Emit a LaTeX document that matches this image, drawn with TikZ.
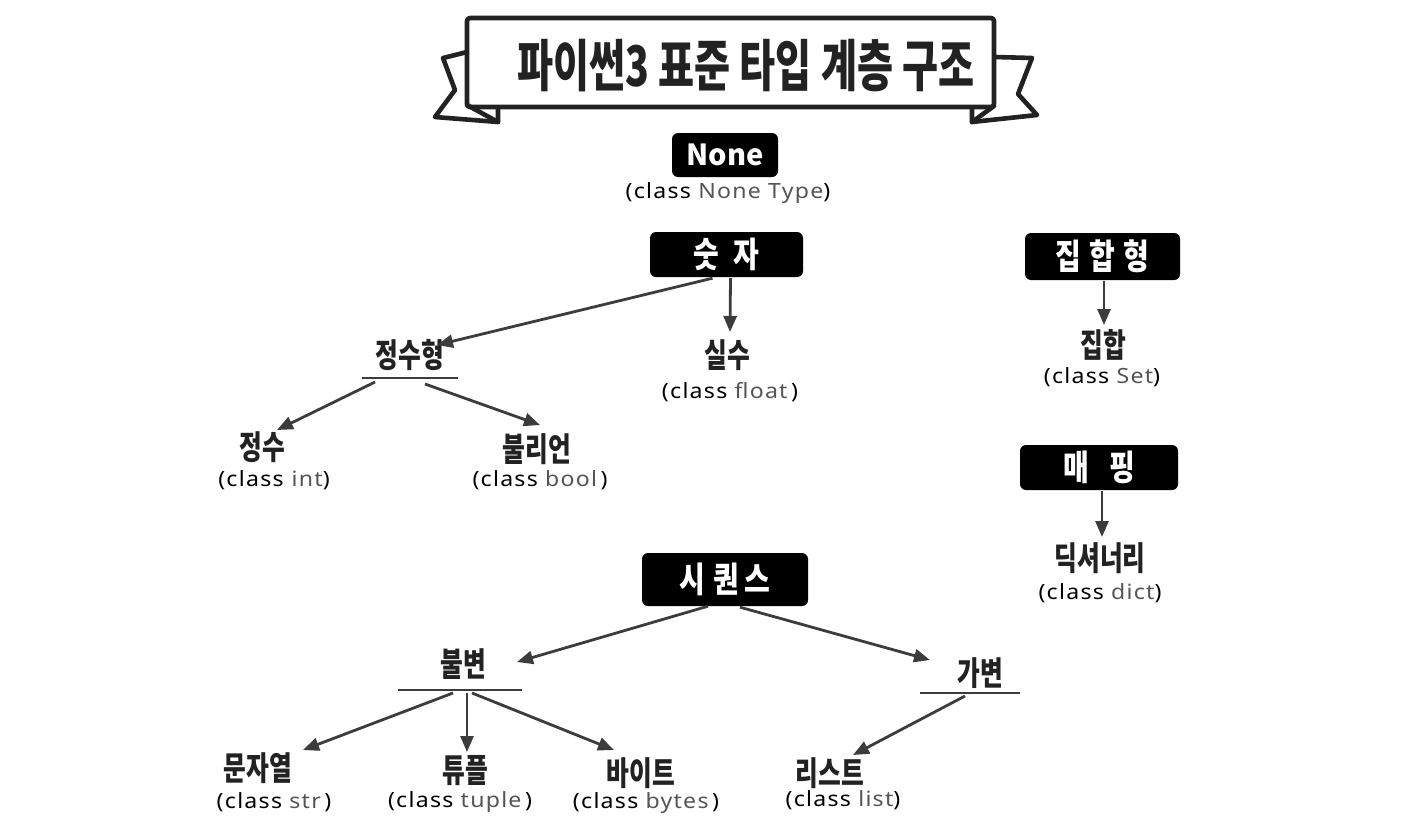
\documentclass[tikz,border=0pt]{standalone}
\usepackage{fontspec}
\usepackage{graphicx}
\setmainfont{Noto Sans CJK KR}
\newfontfamily\krn{Noto Sans CJK KR}[FakeStretch=0.75]
\newfontfamily\krb{Noto Sans CJK KR}[FakeStretch=0.8]
\newfontfamily\krt{Noto Sans CJK KR}[FakeStretch=0.7]
\newfontfamily\lat{Noto Sans}[FakeStretch=1.1,LetterSpace=6]
\usetikzlibrary{arrows.meta,calc}
\definecolor{ink}{HTML}{222222}
\definecolor{linec}{HTML}{3C3C3C}
\definecolor{typec}{HTML}{555555}
\tikzset{
 box/.style={fill=black, rounded corners=6pt, inner sep=0pt, text=white, font=\krb\bfseries\fontsize{35}{35}\selectfont},
 lbl/.style={inner sep=0pt, text=ink, font=\krn\bfseries\fontsize{33}{33}\selectfont},
 cls/.style={inner sep=0pt, text=black, font=\lat\fontsize{21}{21}\selectfont},
 arr/.style={draw=linec, line width=2.8pt, -{Triangle[length=16pt,width=13pt]}},
 uline/.style={draw=linec, line width=2.2pt},
 ribbon/.style={draw=ink, line width=4.6pt, line join=round, line cap=round, fill=white},
}
\newcommand{\ty}[1]{\textcolor{typec}{#1}}
\begin{document}
\begin{tikzpicture}[x=1pt,y=-1pt]
\path[fill=white] (0,0) rectangle (1427,836);
\useasboundingbox (0,0) rectangle (1427,836);
% banner
\draw[ribbon] (467,52) -- (443,58) -- (455,90) -- (435,117) -- (498,122) -- (498,100);
\draw[ribbon] (995,57) -- (1032,58) -- (1018,94) -- (1037,115) -- (972,122) -- (972,100);
\draw[ribbon, rounded corners=3pt] (467,18) rectangle (994,107);
\draw[ribbon] (467,105) -- (498,122);
\draw[ribbon] (994,106) -- (972,122);
\node[font=\krt\bfseries\fontsize{56}{56}\selectfont, text=ink, inner sep=0pt] (title) at (746,66) {파이썬3 표준 타입 계층 구조};
% boxes
\node[box, minimum width=106pt, minimum height=44pt, font=\bfseries\fontsize{29}{29}\selectfont] (none) at (725,155) {None};
\node[cls] (none-c) at (728,193) {(class \ty{None Type})};
\node[box, minimum width=153pt, minimum height=45pt] (num) at (726.5,254.5) {숫\hspace{14pt}자};
\node[box, minimum width=155pt, minimum height=47pt] (set) at (1102.5,256.5) {집\hspace{8pt}합\hspace{8pt}형};
\node[box, minimum width=158pt, minimum height=45pt] (map) at (1099,467.5) {매\hspace{20pt}핑};
\node[box, minimum width=166pt, minimum height=53pt] (seq) at (725,579.5) {시\hspace{8pt}퀀\hspace{6pt}스};
% labels
\node[lbl] (zsh) at (410,355) {정수형};
\node[lbl] (real) at (727,355) {실수};
\node[cls] (real-c) at (730,392) {(class \ty{float}\,)};
\node[lbl] (int) at (262,447) {정수};
\node[cls] (int-c) at (274,480) {(class\hspace{8pt}\ty{int})};
\node[lbl] (bool) at (537,449) {불리언};
\node[cls] (bool-c) at (540,480) {(class \ty{bool}\,)};
\node[lbl] (sset) at (1103,345) {집합};
\node[cls] (sset-c) at (1102,377) {(class \ty{Set})};
\node[lbl] (dict) at (1100,558) {딕셔너리};
\node[cls] (dict-c) at (1100,593) {(class \ty{dict})};
\node[lbl] (imm) at (463,664) {불변};
\node[lbl] (mut) at (980,673) {가변};
\node[lbl] (str) at (258,768) {문자열};
\node[cls] (str-c) at (274,802) {(class \ty{str}\,)};
\node[lbl] (tup) at (465,771) {튜플};
\node[cls] (tup-c) at (460,802) {(class \ty{tuple}\,)};
\node[lbl] (byt) at (641,773) {바이트};
\node[cls] (byt-c) at (646,803) {(class \ty{bytes}\,)};
\node[lbl] (list) at (830,773) {리스트};
\node[cls] (list-c) at (843,800) {(class \ty{list})};
% underlines
\coordinate (zsh-u) at ($(zsh)+(0,23)$);
\coordinate (imm-u) at ($(imm)+(-3.5,26)$);
\coordinate (mut-u) at ($(mut)+(-10,20)$);
\draw[uline] ($(zsh-u)+(-48,0)$) -- ($(zsh-u)+(48,0)$);
\draw[uline] ($(imm-u)+(-62,0)$) -- ($(imm-u)+(62,0)$);
\draw[uline] ($(mut-u)+(-50,0)$) -- ($(mut-u)+(50,0)$);
% connectors
\draw[arr] ($(num.south)+(-14,1)$) -- ($(zsh)+(27,-10)$);
\draw[arr] ($(num.south)+(4,1)$) -- ($(real)+(3,-23)$);
\draw[arr] ($(zsh-u)+(-35,4)$) -- ($(int)+(15,-17)$);
\draw[arr] ($(zsh-u)+(15,6)$) -- ($(bool)+(3,-24)$);
\draw[arr] ($(set.south)+(1.5,1)$) -- ($(sset)+(1,-20)$);
\draw[arr] ($(map.south)+(3,1)$) -- ($(dict)+(2,-21)$);
\draw[arr] ($(seq.south)+(-17,0)$) -- ($(imm)+(54,-2)$);
\draw[arr] ($(seq.south)+(15,1)$) -- ($(mut)+(-50,-13)$);
\draw[arr] ($(imm-u)+(-6.5,3)$) -- ($(str)+(45,-18)$);
\draw[arr] ($(imm-u)+(7.5,3)$) -- ($(tup)+(2,-19)$);
\draw[arr] ($(imm-u)+(12.5,3)$) -- ($(byt)+(-27,-23)$);
\draw[arr] ($(mut-u)+(-5,3)$) -- ($(list)+(23,-18)$);
\end{tikzpicture}
\end{document}
